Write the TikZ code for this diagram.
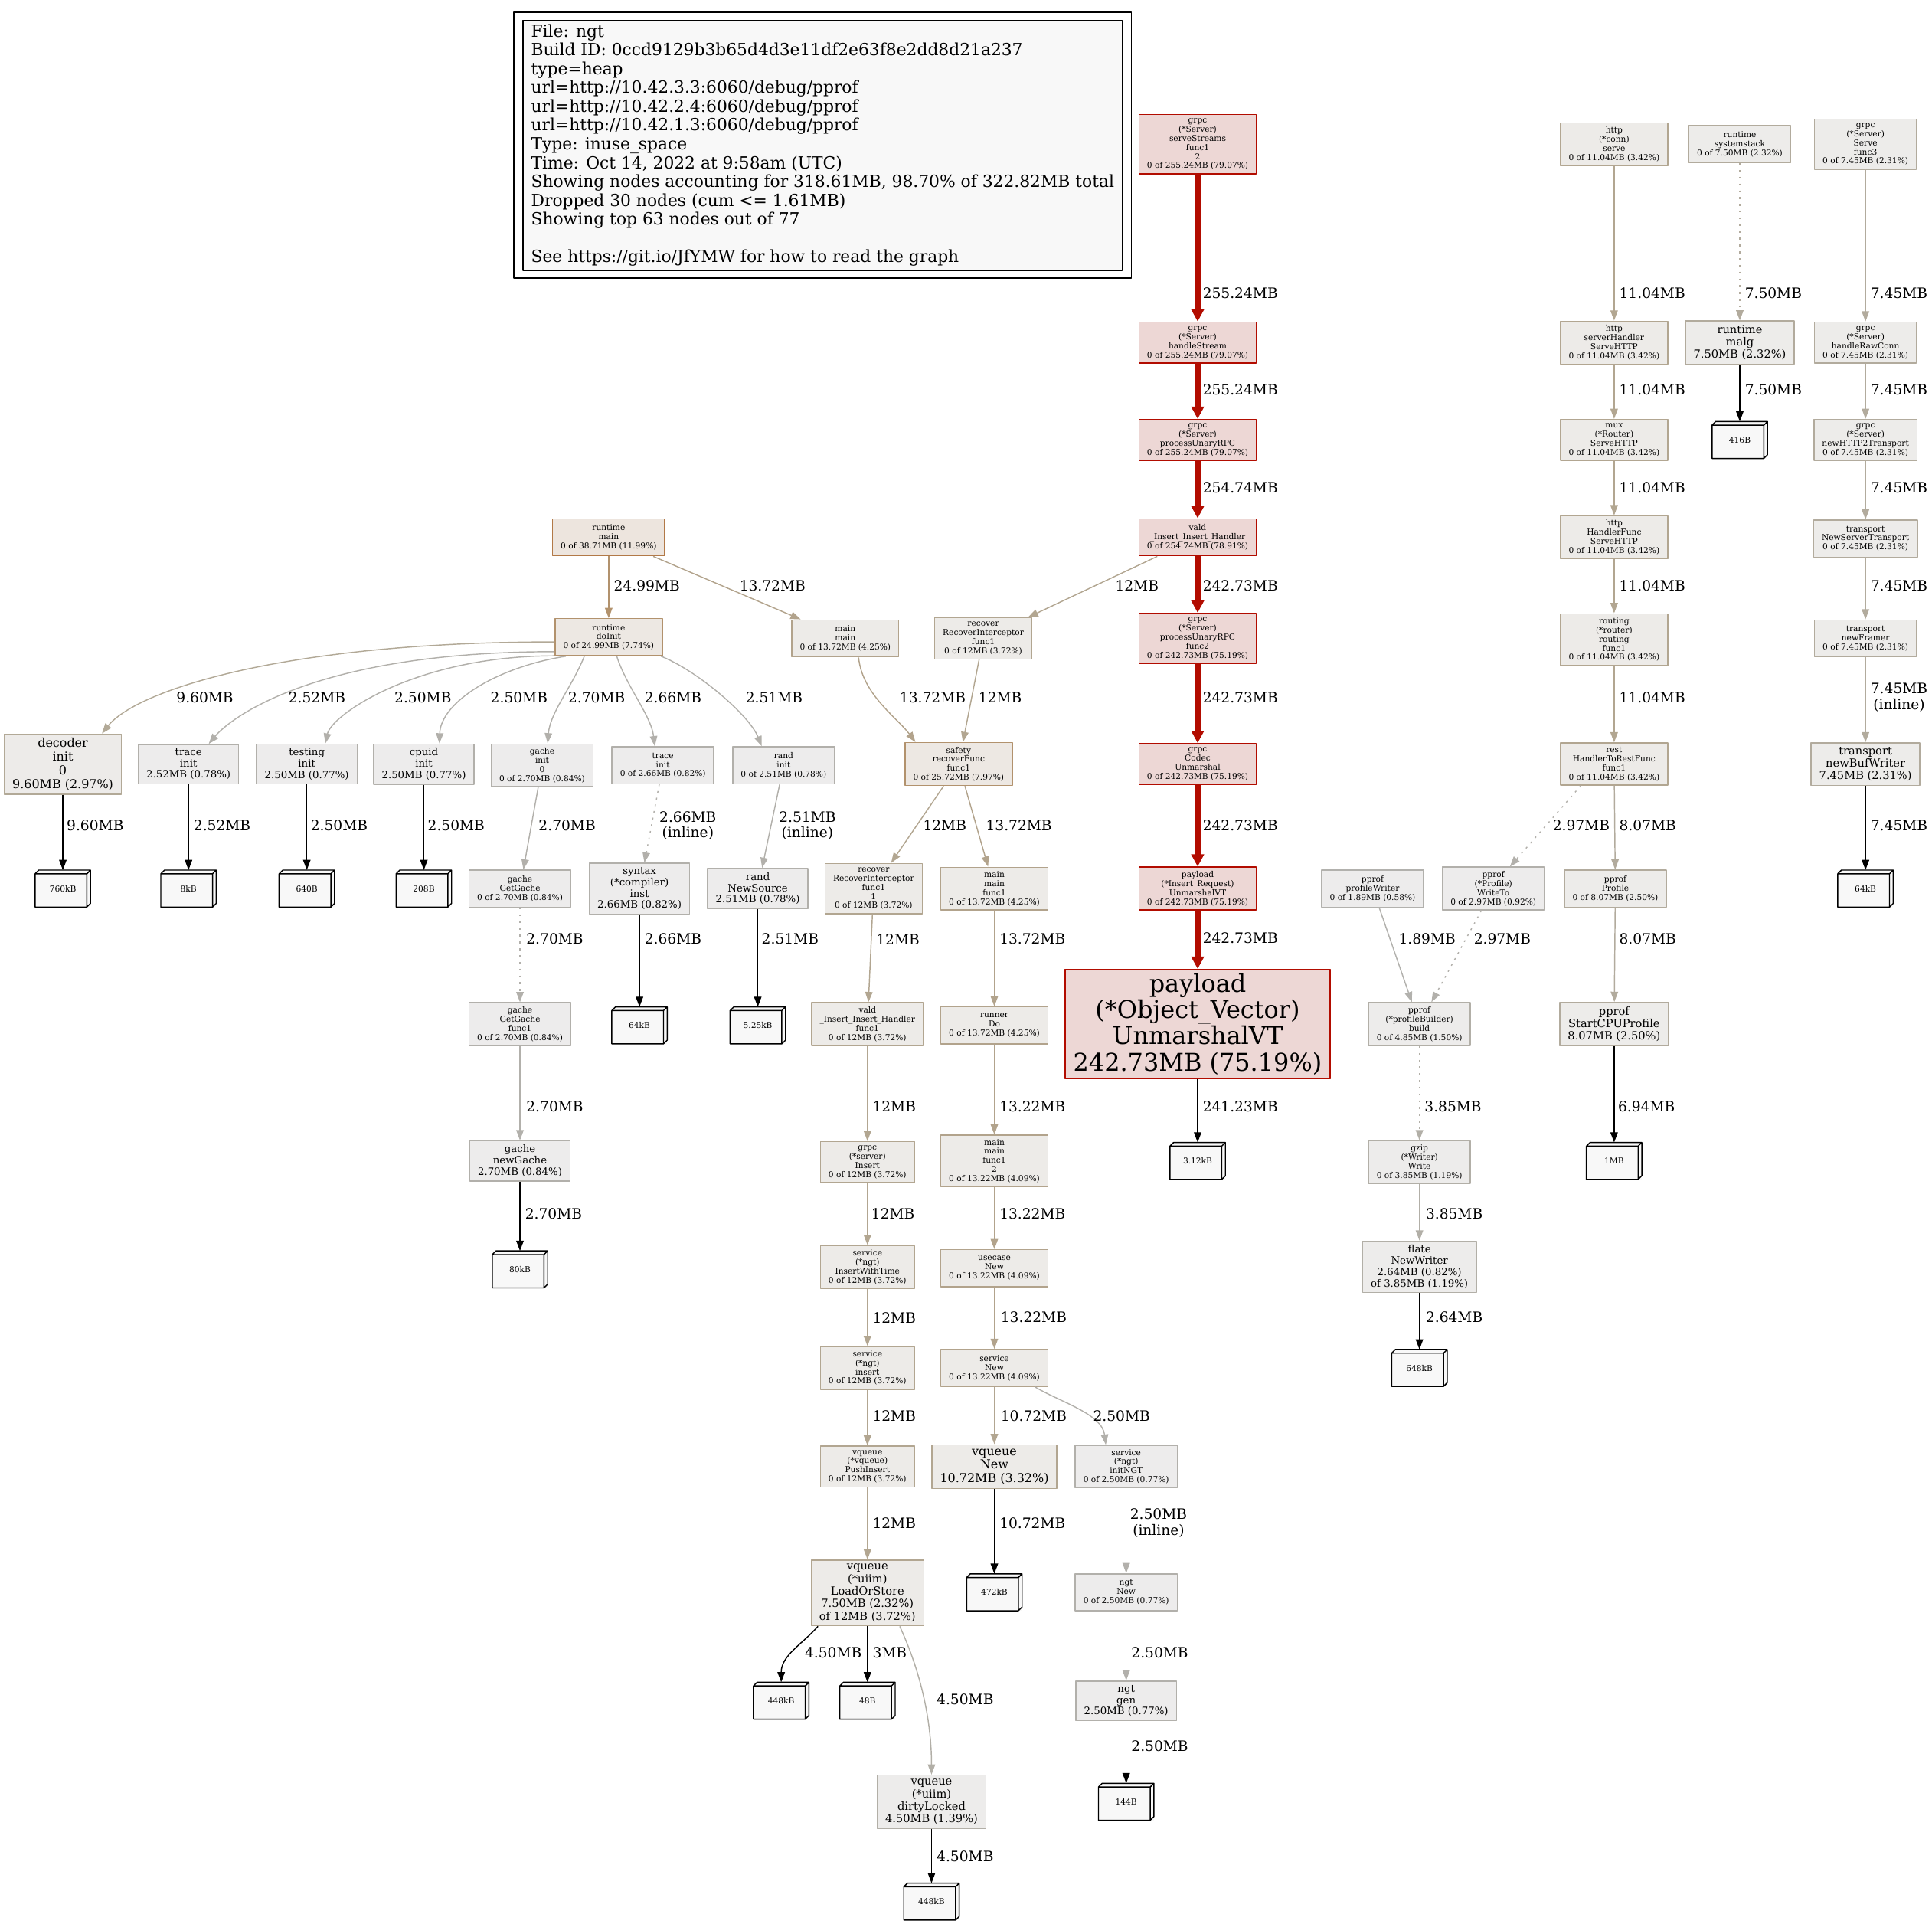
\documentclass[tikz,border=0pt]{standalone}
\usepackage{fontspec}
\setmainfont{DejaVu Serif}
\usetikzlibrary{arrows.meta,calc}
\definecolor{hotln}{HTML}{B20C00}
\definecolor{hotbg}{HTML}{EDD7D5}
\definecolor{rmln}{HTML}{B27947}
\definecolor{rmbg}{HTML}{EDE5DE}
\definecolor{warmln}{HTML}{B2926D}
\definecolor{warmbg}{HTML}{EDE8E3}
\definecolor{midln}{HTML}{B2A38C}
\definecolor{midbg}{HTML}{EDEBE8}
\definecolor{lowln}{HTML}{B2A691}
\definecolor{decln}{HTML}{B2A997}
\definecolor{decbg}{HTML}{EDEBE9}
\definecolor{coolln}{HTML}{B2AB9D}
\definecolor{coolbg}{HTML}{EDECEA}
\definecolor{faintln}{HTML}{B2AFA7}
\definecolor{faintbg}{HTML}{EDECEB}
\definecolor{paleln}{HTML}{B2B0AB}
\definecolor{palebg}{HTML}{EDECEC}
\definecolor{tinyln}{HTML}{B2B1AD}
\definecolor{leafbg}{HTML}{F8F8F8}
\newcommand\fEight{\fontsize{6.64}{7.4}\selectfont}
\newcommand\fTen{\fontsize{8.3}{9.25}\selectfont}
\newcommand\fEleven{\fontsize{9.13}{10.15}\selectfont}
\newcommand\fTwelve{\fontsize{9.96}{11.05}\selectfont}
\newcommand\fFourteen{\fontsize{11.62}{12.9}\selectfont}
\newcommand\fSixteen{\fontsize{13.6}{15.3}\selectfont}
\newcommand\fBig{\fontsize{19.92}{21.4}\selectfont}
% box3d leaf: name, centre, text
\newcommand\leafbox[3]{%
  \node[leaf] (#1) at (#2) {#3};
  \draw[line width=.9bp] (#1.north west) ++(0,3) -- ++(3,-3) -- (#1.north east) -- ++(0,27) -- ++(-3,3) -- (#1.south west) -- cycle
    (#1.north west) ++(0,3) -- ++(42,0) -- ++(3,-3) ++(-3,3) -- ++(0,27);
}
\begin{document}
\begin{tikzpicture}[x=1bp, y=-1bp, line join=round, >={Triangle[length=8.3bp,width=6bp]},
  fn/.style={draw, line width=.9bp, align=center, inner xsep=6.6bp, inner ysep=3.3bp, minimum width=45bp, minimum height=30bp, font=\fEight},
  hotn/.style={draw=hotln, fill=hotbg},
  rmn/.style={draw=rmln, fill=rmbg},
  warmn/.style={draw=warmln, fill=warmbg},
  midn/.style={draw=midln, fill=midbg},
  lown/.style={draw=lowln, fill=midbg},
  decn/.style={draw=decln, fill=decbg},
  cooln/.style={draw=coolln, fill=coolbg},
  faintn/.style={draw=faintln, fill=faintbg},
  palen/.style={draw=paleln, fill=palebg},
  tinyn/.style={draw=tinyln, fill=palebg},
  leaf/.style={fill=leafbg, minimum width=45bp, minimum height=30bp, inner sep=0pt, outer sep=0pt, font=\fEight},
  ed/.style={->, line width=.9bp},
  hotedge/.style={-{Triangle[length=10bp,width=10bp]}, line width=4.5bp, hotln},
  resid/.style={dash pattern=on 1.5bp off 4bp},
  lbl/.style={anchor=west, inner sep=0pt, font=\fFourteen, align=center}]
\useasboundingbox (0,0) rectangle (1568,1561);

\node[draw, fill=leafbg, line width=.9bp, anchor=north west, align=left, inner xsep=6.6bp, inner ysep=3.3bp, font=\fSixteen] (legend) at (424,16)
  {File: ngt\\Build ID: 0ccd9129b3b65d4d3e11df2e63f8e2dd8d21a237\\type=heap\\url=http://10.42.3.3:6060/debug/pprof\\url=http://10.42.2.4:6060/debug/pprof\\url=http://10.42.1.3:6060/debug/pprof\\Type: inuse\_space\\Time: Oct 14, 2022 at 9:58am (UTC)\\Showing nodes accounting for 318.61MB, 98.70\% of 322.82MB total\\Dropped 30 nodes (cum <= 1.61MB)\\Showing top 63 nodes out of 77\\ \mbox{}\\See https://git.io/JfYMW for how to read the graph};
\draw[line width=.9bp] ($(legend.north west)+(-7,-6)$) rectangle ($(legend.south east)+(7,6)$);

\node[fn, hotn] (ss) at (972,117) {grpc\\(*Server)\\serveStreams\\func1\\2\\0 of 255.24MB (79.07\%)};
\node[fn, lown] (hcs) at (1310,117) {http\\(*conn)\\serve\\0 of 11.04MB (3.42\%)};
\node[fn, cooln] (sst) at (1412,117) {runtime\\systemstack\\0 of 7.50MB (2.32\%)};
\node[fn, cooln] (sf3) at (1514,117) {grpc\\(*Server)\\Serve\\func3\\0 of 7.45MB (2.31\%)};
\node[fn, hotn] (hs) at (972,278) {grpc\\(*Server)\\handleStream\\0 of 255.24MB (79.07\%)};
\node[fn, lown] (shs) at (1310,278) {http\\serverHandler\\ServeHTTP\\0 of 11.04MB (3.42\%)};
\node[fn, cooln, font=\fEleven] (malg) at (1412,278) {runtime\\malg\\7.50MB (2.32\%)};
\node[fn, cooln] (hrc) at (1514,278) {grpc\\(*Server)\\handleRawConn\\0 of 7.45MB (2.31\%)};
\node[fn, hotn] (pu) at (972,357) {grpc\\(*Server)\\processUnaryRPC\\0 of 255.24MB (79.07\%)};
\node[fn, lown] (mux) at (1310,357) {mux\\(*Router)\\ServeHTTP\\0 of 11.04MB (3.42\%)};
\leafbox{l416}{1412,357}{416B}
\node[fn, cooln] (h2t) at (1514,357) {grpc\\(*Server)\\newHTTP2Transport\\0 of 7.45MB (2.31\%)};
\node[fn, rmn] (rm) at (494,436) {runtime\\main\\0 of 38.71MB (11.99\%)};
\node[fn, hotn] (vh) at (972,436) {vald\\\_Insert\_Insert\_Handler\\0 of 254.74MB (78.91\%)};
\node[fn, lown] (hf) at (1310,436) {http\\HandlerFunc\\ServeHTTP\\0 of 11.04MB (3.42\%)};
\node[fn, cooln] (nst) at (1514,437) {transport\\NewServerTransport\\0 of 7.45MB (2.31\%)};
\node[fn, warmn] (di) at (494,517) {runtime\\doInit\\0 of 24.99MB (7.74\%)};
\node[fn, midn] (mm) at (686,518) {main\\main\\0 of 13.72MB (4.25\%)};
\node[fn, lown] (ri) at (798,518) {recover\\RecoverInterceptor\\func1\\0 of 12MB (3.72\%)};
\node[fn, hotn] (pf2) at (972,518) {grpc\\(*Server)\\processUnaryRPC\\func2\\0 of 242.73MB (75.19\%)};
\node[fn, lown] (rt) at (1310,519) {routing\\(*router)\\routing\\func1\\0 of 11.04MB (3.42\%)};
\node[fn, cooln] (nf) at (1514,518) {transport\\newFramer\\0 of 7.45MB (2.31\%)};
\node[fn, decn, font=\fTwelve] (dec) at (51,620) {decoder\\init\\0\\9.60MB (2.97\%)};
\node[fn, palen, font=\fTen] (ti) at (153,620) {trace\\init\\2.52MB (0.78\%)};
\node[fn, palen, font=\fTen] (tsi) at (249,620) {testing\\init\\2.50MB (0.77\%)};
\node[fn, palen, font=\fTen] (ci) at (344,620) {cpuid\\init\\2.50MB (0.77\%)};
\node[fn, palen] (gi) at (440,621) {gache\\init\\0\\0 of 2.70MB (0.84\%)};
\node[fn, palen] (tri) at (538,621) {trace\\init\\0 of 2.66MB (0.82\%)};
\node[fn, palen] (ra) at (636,621) {rand\\init\\0 of 2.51MB (0.78\%)};
\node[fn, warmn] (sr) at (778,620) {safety\\recoverFunc\\func1\\0 of 25.72MB (7.97\%)};
\node[fn, hotn] (cu) at (972,620) {grpc\\Codec\\Unmarshal\\0 of 242.73MB (75.19\%)};
\node[fn, lown] (rest) at (1310,620) {rest\\HandlerToRestFunc\\func1\\0 of 11.04MB (3.42\%)};
\node[fn, cooln, font=\fEleven] (tbw) at (1514,620) {transport\\newBufWriter\\7.45MB (2.31\%)};
\leafbox{l760}{51,721}{760kB}
\leafbox{l8k}{153,721}{8kB}
\leafbox{l640}{249,721}{640B}
\leafbox{l208}{344,721}{208B}
\node[fn, palen] (ggc) at (422,721) {gache\\GetGache\\0 of 2.70MB (0.84\%)};
\node[fn, palen, font=\fTen] (sy) at (519,721) {syntax\\(*compiler)\\inst\\2.66MB (0.82\%)};
\node[fn, palen, font=\fTen] (rns) at (615,721) {rand\\NewSource\\2.51MB (0.78\%)};
\node[fn, lown] (ri1) at (709,721) {recover\\RecoverInterceptor\\func1\\1\\0 of 12MB (3.72\%)};
\node[fn, midn] (mmf1) at (807,721) {main\\main\\func1\\0 of 13.72MB (4.25\%)};
\node[fn, hotn] (pir) at (972,721) {payload\\(*Insert\_Request)\\UnmarshalVT\\0 of 242.73MB (75.19\%)};
\node[fn, tinyn] (pw) at (1114,721) {pprof\\profileWriter\\0 of 1.89MB (0.58\%)};
\node[fn, palen] (wt) at (1212,721) {pprof\\(*Profile)\\WriteTo\\0 of 2.97MB (0.92\%)};
\node[fn, cooln] (pp) at (1311,721) {pprof\\Profile\\0 of 8.07MB (2.50\%)};
\leafbox{l64a}{1514,721}{64kB}
\node[fn, palen] (ggf) at (422,831) {gache\\GetGache\\func1\\0 of 2.70MB (0.84\%)};
\leafbox{l64b}{519,832}{64kB}
\leafbox{l525}{615,832}{5.25kB}
\node[fn, lown] (vif) at (704,831) {vald\\\_Insert\_Insert\_Handler\\func1\\0 of 12MB (3.72\%)};
\node[fn, midn] (rd) at (807,832) {runner\\Do\\0 of 13.72MB (4.25\%)};
\node[fn, hotn, font=\fBig] (pov) at (972,831) {payload\\(*Object\_Vector)\\UnmarshalVT\\242.73MB (75.19\%)};
\node[fn, faintn] (pb) at (1152,831) {pprof\\(*profileBuilder)\\build\\0 of 4.85MB (1.50\%)};
\node[fn, cooln, font=\fEleven] (scp) at (1310,831) {pprof\\StartCPUProfile\\8.07MB (2.50\%)};
\node[fn, palen, font=\fTen] (gng) at (422,942) {gache\\newGache\\2.70MB (0.84\%)};
\node[fn, lown] (gsi) at (704,943) {grpc\\(*server)\\Insert\\0 of 12MB (3.72\%)};
\node[fn, midn] (mf2) at (807,942) {main\\main\\func1\\2\\0 of 13.22MB (4.09\%)};
\leafbox{l312}{972,942}{3.12kB}
\node[fn, faintn] (gz) at (1152,943) {gzip\\(*Writer)\\Write\\0 of 3.85MB (1.19\%)};
\leafbox{l1mb}{1310,942}{1MB}
\leafbox{l80}{422,1030}{80kB}
\node[fn, lown] (siwt) at (704,1028) {service\\(*ngt)\\InsertWithTime\\0 of 12MB (3.72\%)};
\node[fn, midn] (ucn) at (807,1029) {usecase\\New\\0 of 13.22MB (4.09\%)};
\node[fn, faintn, font=\fTen] (fl) at (1152,1028) {flate\\NewWriter\\2.64MB (0.82\%)\\of 3.85MB (1.19\%)};
\node[fn, lown] (sins) at (704,1110) {service\\(*ngt)\\insert\\0 of 12MB (3.72\%)};
\node[fn, midn] (sn) at (807,1110) {service\\New\\0 of 13.22MB (4.09\%)};
\leafbox{l648}{1152,1110}{648kB}
\node[fn, lown] (vpi) at (704,1190) {vqueue\\(*vqueue)\\PushInsert\\0 of 12MB (3.72\%)};
\node[fn, lown, font=\fTwelve] (vn) at (807,1190) {vqueue\\New\\10.72MB (3.32\%)};
\node[fn, palen] (ngi) at (914,1190) {service\\(*ngt)\\initNGT\\0 of 2.50MB (0.77\%)};
\node[fn, lown, font=\fEleven] (vlos) at (704,1292.5) {vqueue\\(*uiim)\\LoadOrStore\\7.50MB (2.32\%)\\of 12MB (3.72\%)};
\leafbox{l472}{807,1292}{472kB}
\node[fn, palen] (ngn) at (914,1292) {ngt\\New\\0 of 2.50MB (0.77\%)};
\leafbox{l448a}{634,1380}{448kB}
\leafbox{l48}{704,1380}{48B}
\node[fn, palen, font=\fTen] (ngg) at (914,1380) {ngt\\gen\\2.50MB (0.77\%)};
\node[fn, faintn, font=\fEleven] (dl) at (756,1462) {vqueue\\(*uiim)\\dirtyLocked\\4.50MB (1.39\%)};
\leafbox{l144}{914,1462}{144B}
\leafbox{l448b}{756,1543}{448kB}

\draw[hotedge] (ss) -- (hs);
\draw[hotedge] (hs) -- (pu);
\draw[hotedge] (pu) -- (vh);
\draw[hotedge] (vh) -- (pf2);
\draw[hotedge] (pf2) -- (cu);
\draw[hotedge] (cu) -- (pir);
\draw[hotedge] (pir) -- (pov);
\draw[ed] (pov) -- (l312);
\draw[ed, lowln] (vh) -- (ri);
\draw[ed, warmln] (rm) -- (di);
\draw[ed, midln] (rm) -- (mm);
\draw[ed, decln] (di.185) .. controls +(-220,0) and +(28,-35) .. (dec.38);
\draw[ed, paleln] (di.195) .. controls +(-200,0) and +(15,-18) .. (ti.45);
\draw[ed, paleln] (di.199) .. controls +(-113,0) and +(5,-23) .. (tsi.48);
\draw[ed, paleln] (di.204) .. controls +(-57,9) and +(1,-33) .. (ci.53);
\draw[ed, paleln] (di.218) .. controls +(-10,25) and +(2,-25) .. (gi.76);
\draw[ed, paleln] (di.293) .. controls +(8,25) and +(-3,-25) .. (tri.113);
\draw[ed, paleln] (di.340) .. controls +(30,12) and +(-10,-25) .. (ra.139);
\draw[ed, midln] (mm.305) .. controls +(3,30) and +(-15,-20) .. (sr.153);
\draw[ed, lowln] (ri) -- (sr);
\draw[ed] (dec) -- (l760);
\draw[ed] (ti) -- (l8k);
\draw[ed] (tsi) -- (l640);
\draw[ed] (ci) -- (l208);
\draw[ed, paleln] (gi) -- (ggc);
\draw[ed, paleln, resid] (tri) -- (sy);
\draw[ed, paleln] (ra) -- (rns);
\draw[ed, lowln] (sr) -- (ri1);
\draw[ed, midln] (sr) -- (mmf1);
\draw[ed, paleln, resid] (ggc) -- (ggf);
\draw[ed] (sy) -- (l64b);
\draw[ed] (rns) -- (l525);
\draw[ed, lowln] (ri1) -- (vif);
\draw[ed, midln] (mmf1) -- (rd);
\draw[ed, paleln] (ggf) -- (gng);
\draw[ed, lowln] (vif) -- (gsi);
\draw[ed, midln] (rd) -- (mf2);
\draw[ed] (gng) -- (l80);
\draw[ed, lowln] (gsi) -- (siwt);
\draw[ed, midln] (mf2) -- (ucn);
\draw[ed, lowln] (siwt) -- (sins);
\draw[ed, midln] (ucn) -- (sn);
\draw[ed, lowln] (sins) -- (vpi);
\draw[ed, lowln] (sn) -- (vn);
\draw[ed, paleln] (sn.335) .. controls +(20,12) and +(-3,-25) .. (ngi.133);
\draw[ed, lowln] (vpi) -- (vlos);
\draw[ed] (vn) -- (l472);
\draw[ed, paleln] (ngi) -- (ngn);
\draw[ed] (vlos.214) .. controls +(-12,14) and +(0,-22) .. (l448a.north);
\draw[ed] (vlos) -- (l48);
\draw[ed, faintln] (vlos.314) .. controls +(14,30) and +(0,-50) .. (dl.north);
\draw[ed, paleln] (ngn) -- (ngg);
\draw[ed] (ngg) -- (l144);
\draw[ed] (dl) -- (l448b);
\draw[ed, lowln] (hcs) -- (shs);
\draw[ed, lowln] (shs) -- (mux);
\draw[ed, lowln] (mux) -- (hf);
\draw[ed, lowln] (hf) -- (rt);
\draw[ed, lowln] (rt) -- (rest);
\draw[ed, paleln, resid] (rest.213) -- (wt.53);
\draw[ed, coolln] (rest) -- (pp);
\draw[ed, coolln, resid] (sst) -- (malg);
\draw[ed] (malg) -- (l416);
\draw[ed, coolln] (sf3) -- (hrc);
\draw[ed, coolln] (hrc) -- (h2t);
\draw[ed, coolln] (h2t) -- (nst);
\draw[ed, coolln] (nst) -- (nf);
\draw[ed, coolln] (nf) -- (tbw);
\draw[ed] (tbw) -- (l64a);
\draw[ed, tinyln] (pw) -- (pb);
\draw[ed, paleln, resid] (wt) -- (pb);
\draw[ed, coolln] (pp) -- (scp);
\draw[ed] (scp) -- (l1mb);
\draw[ed, faintln, resid] (pb) -- (gz);
\draw[ed, faintln] (gz) -- (fl);
\draw[ed] (fl) -- (l648);

\path (976,238) node[lbl] (a1) {255.24MB} (976,316) node[lbl] (a2) {255.24MB} (976,396) node[lbl] (a3) {254.74MB}
  (976,475) node[lbl] (a4) {242.73MB} (976,566) node[lbl] (a5) {242.73MB} (976,670) node[lbl] (a6) {242.73MB}
  (976,761) node[lbl] (a7) {242.73MB} (976,898) node[lbl] (a8) {241.23MB} (905,475) node[lbl] (a9) {12MB}
  (498,475) node[lbl] (a10) {24.99MB} (600,475) node[lbl] (a11) {13.72MB};
\path (1314,238) node[lbl] (b1) {11.04MB} (1314,316) node[lbl] (b2) {11.04MB} (1314,396) node[lbl] (b3) {11.04MB}
  (1314,475) node[lbl] (b4) {11.04MB} (1314,566) node[lbl] (b5) {11.04MB}
  (1416,238) node[lbl] (b6) {7.50MB} (1416,316) node[lbl] (b7) {7.50MB}
  (1518,238) node[lbl] (b8) {7.45MB} (1518,316) node[lbl] (b9) {7.45MB} (1518,396) node[lbl] (b10) {7.45MB}
  (1518,475) node[lbl] (b11) {7.45MB} (1518,566) node[lbl] (b12) {7.45MB\\(inline)} (1518,670) node[lbl] (b13) {7.45MB};
\path (143,566) node[lbl] (c1) {9.60MB} (234,566) node[lbl] (c2) {2.52MB} (320,566) node[lbl] (c3) {2.50MB}
  (398,566) node[lbl] (c4) {2.50MB} (461,566) node[lbl] (c5) {2.70MB} (523,566) node[lbl] (c6) {2.66MB}
  (605,566) node[lbl] (c7) {2.51MB} (730,566) node[lbl] (c8) {13.72MB} (794,566) node[lbl] (c9) {12MB};
\path (54,670) node[lbl] (d1) {9.60MB} (157,670) node[lbl] (d2) {2.52MB} (252,670) node[lbl] (d3) {2.50MB}
  (347,670) node[lbl] (d4) {2.50MB} (437,670) node[lbl] (d5) {2.70MB} (535,670) node[lbl] (d6) {2.66MB\\(inline)}
  (632,670) node[lbl] (d7) {2.51MB\\(inline)} (749,670) node[lbl] (d8) {12MB} (800,670) node[lbl] (d9) {13.72MB}
  (1260,670) node[lbl] (d10) {2.97MB} (1314,670) node[lbl] (d11) {8.07MB};
\path (427,762) node[lbl] (e1) {2.70MB} (523,762) node[lbl] (e2) {2.66MB} (618,762) node[lbl] (e3) {2.51MB}
  (711,762) node[lbl] (e4) {12MB} (811,762) node[lbl] (e5) {13.72MB} (1135,762) node[lbl] (e6) {1.89MB}
  (1196,762) node[lbl] (e7) {2.97MB} (1314,762) node[lbl] (e8) {8.07MB};
\path (427,898) node[lbl] (f1) {2.70MB} (708,898) node[lbl] (f2) {12MB} (811,898) node[lbl] (f3) {13.22MB}
  (1156,898) node[lbl] (f4) {3.85MB} (1313,898) node[lbl] (f5) {6.94MB}
  (426,985) node[lbl] (f6) {2.70MB} (707,985) node[lbl] (f7) {12MB} (811,985) node[lbl] (f8) {13.22MB}
  (1157,985) node[lbl] (f9) {3.85MB};
\path (708,1069) node[lbl] (g1) {12MB} (812,1069) node[lbl] (g2) {13.22MB} (1157,1069) node[lbl] (g3) {2.64MB}
  (708,1149) node[lbl] (g4) {12MB} (812,1149) node[lbl] (g5) {10.72MB} (887,1149) node[lbl] (g6) {2.50MB}
  (708,1236) node[lbl] (g7) {12MB} (811,1236) node[lbl] (g8) {10.72MB} (917,1236) node[lbl] (g9) {2.50MB\\(inline)}
  (653,1341) node[lbl] (g10) {4.50MB} (708,1341) node[lbl] (g11) {3MB} (918,1341) node[lbl] (g12) {2.50MB}
  (760,1379) node[lbl] (g13) {4.50MB} (918,1417) node[lbl] (g14) {2.50MB} (760,1506) node[lbl] (g15) {4.50MB};
\end{tikzpicture}
\end{document}
